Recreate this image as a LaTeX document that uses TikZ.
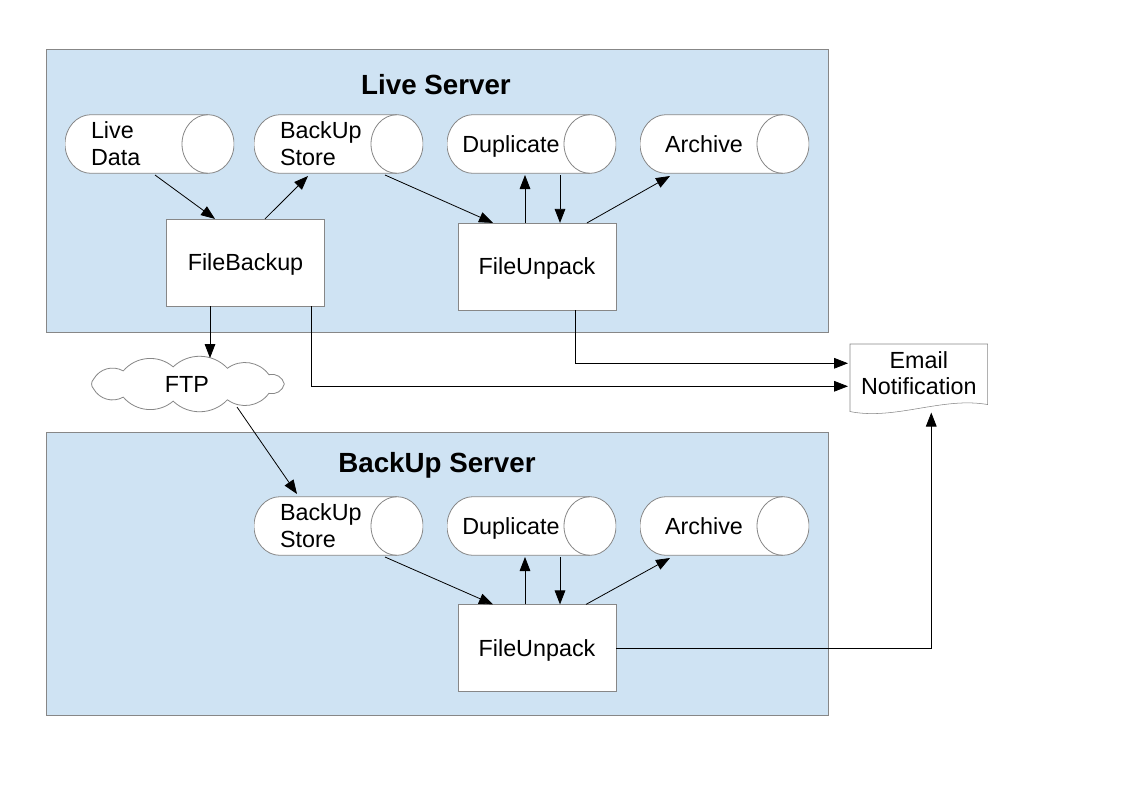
\documentclass[tikz,border=0pt]{standalone}
\usepackage{fontspec}
\setmainfont{Liberation Sans}
\usepackage{xcolor}
\usepackage{tikz}
\usetikzlibrary{arrows.meta}
\definecolor{serverblue}{RGB}{207,227,243}
\definecolor{edgegray}{RGB}{135,135,135}
\newcommand{\diagfont}{\fontsize{17.5}{20.25}\selectfont}
% text of a store, set in the body left of the end face
\newcommand{\storetext}[1]{\parbox{57pt}{\raggedright#1}\hspace*{30.75pt}}
\newcommand{\storename}[1]{\makebox[57pt][c]{#1}\hspace*{30.75pt}}

\begin{document}
\begin{tikzpicture}[x=0.75pt, y=-0.75pt,
        server/.style={draw=edgegray, fill=serverblue, anchor=north west, minimum width=586.5pt, minimum height=212.25pt, inner sep=0pt},
        title/.style={font=\fontsize{20.8}{24}\selectfont\bfseries},
        store/.style={rectangle, fill=serverblue, minimum width=126.75pt, minimum height=45pt, inner sep=0pt, font=\diagfont,
            path picture={
                \draw [edgegray, fill=white, line width=0.6pt]
                    ([shift={(19.5pt,-0.5pt)}]path picture bounding box.north west) -- ([shift={(-19.5pt,-0.5pt)}]path picture bounding box.north east)
                    arc [start angle=90, end angle=-90, x radius=19.5pt, y radius=22pt]
                    -- ([shift={(19.5pt,0.5pt)}]path picture bounding box.south west)
                    arc [start angle=270, end angle=90, x radius=19.5pt, y radius=22pt] -- cycle;
                \draw [edgegray, line width=0.6pt] ([shift={(-19.5pt,-0.5pt)}]path picture bounding box.north east)
                    arc [start angle=90, end angle=270, x radius=19.5pt, y radius=22pt];
            }},
        onestore/.style={store, text depth=0pt},
        job/.style={rectangle, draw=edgegray, fill=white, minimum width=118.5pt, minimum height=65pt, text depth=0pt, font=\diagfont},
        net/.style={rectangle, fill=white, minimum width=160pt, minimum height=44pt, inner sep=0pt, text depth=0pt, font=\diagfont,
            path picture={
                \draw [edgegray, fill=white, line width=0.6pt] ([shift={(73pt,0pt)}]path picture bounding box.center)
                    \foreach \i in {1,...,11} { to [bend right=45] ([shift={({73pt*cos(\i*360/11)},{13pt*sin(\i*360/11)})}]path picture bounding box.center) };
            }},
        flow/.style={-{Triangle[length=10.5pt,width=8pt]}, line width=0.6pt}]
        \useasboundingbox (0,0) rectangle (1123,794);
        % the two servers
        \node (live) at (46,49) [server] {};
        \node (backup) at (46,432) [server] {};
        \node (livetitle) at (436,85) [title] {Live Server};
        \node (backuptitle) at (437,465) [title] {BackUp Server};
        % live server
        \node (livedata) at (149.5,144) [store] {\storetext{Live\\Data}};
        \node (store1) at (338.5,144) [store] {\storetext{BackUp\\Store}};
        \node (dup1) at (531.5,144) [onestore] {\storename{Duplicate}};
        \node (arch1) at (724.5,144) [onestore] {\storename{Archive}};
        \node (filebackup) at (245.5,262.5) [job] {FileBackup};
        \node (unpack1) at (537,266.5) [job] {FileUnpack};
        % backup server
        \node (store2) at (338.5,526) [store] {\storetext{BackUp\\Store}};
        \node (dup2) at (531.5,526) [onestore] {\storename{Duplicate}};
        \node (arch2) at (724.5,526) [onestore] {\storename{Archive}};
        \node (unpack2) at (537,648) [job] {FileUnpack};
        % outside
        \node (ftp) at (187,384) [net] {FTP};
        \node (email) at (850,344) [anchor=north west, minimum width=102.75pt, minimum height=45pt, inner sep=0pt] {};
        \draw [draw=edgegray, fill=white] (email.north west) -- (email.north east) -- (email.south east)
            .. controls ([shift={(-45,-8)}]email.south east) and ([shift={(45,16)}]email.south west) .. ([shift={(0,7)}]email.south west) -- cycle;
        \node (emailtext) at ([shift={(0,-1)}]email.center) [align=center, font=\fontsize{17.5}{19}\selectfont] {Email\\Notification};
        % live server flows
        \draw [flow] ([shift={(5.5,31)}]livedata.center) -- ([shift={(-30.5,0)}]filebackup.north);
        \draw [flow] ([shift={(19.5,0)}]filebackup.north) -- ([shift={(-30.5,32)}]store1.center);
        \draw [flow] ([shift={(46.5,31)}]store1.center) -- ([shift={(-44,0)}]unpack1.north);
        \draw [flow] ([shift={(-12,0)}]unpack1.north) -- ([shift={(-6.5,31)}]dup1.center);
        \draw [flow] ([shift={(28.5,31)}]dup1.center) -- ([shift={(23,0)}]unpack1.north);
        \draw [flow] ([shift={(50,0)}]unpack1.north) -- ([shift={(-54.5,32)}]arch1.center);
        % backup server flows
        \draw [flow] ([shift={(46.5,31)}]store2.center) -- ([shift={(-44,0)}]unpack2.north);
        \draw [flow] ([shift={(-12,0)}]unpack2.north) -- ([shift={(-6.5,31)}]dup2.center);
        \draw [flow] ([shift={(28.5,31)}]dup2.center) -- ([shift={(23,0)}]unpack2.north);
        \draw [flow] ([shift={(49,0)}]unpack2.north) -- ([shift={(-54.5,32)}]arch2.center);
        % transfer and notifications
        \draw [flow] ([shift={(-35.5,0)}]filebackup.south) -- ([shift={(23,-26)}]ftp.center);
        \draw [flow] ([shift={(50,23)}]ftp.center) -- ([shift={(-41.5,-32)}]store2.center);
        \draw [flow] ([shift={(38,0)}]unpack1.south) |- ([shift={(-2,-11)}]email.west);
        \draw [flow] ([shift={(65.5,0)}]filebackup.south) |- ([shift={(-2,12)}]email.west);
        \draw [flow] (unpack2.east) -| ([shift={(12.5,8)}]email.south);
\end{tikzpicture}
\end{document}
